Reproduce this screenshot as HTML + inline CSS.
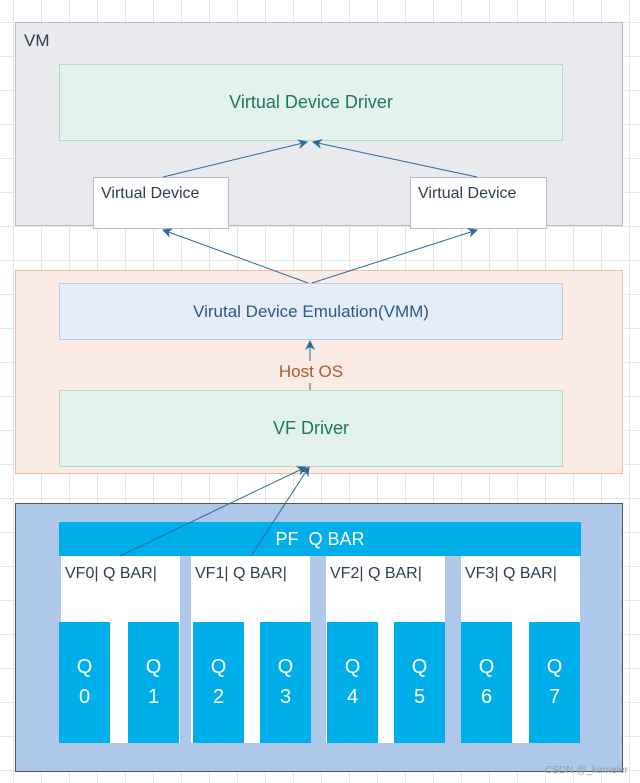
<!DOCTYPE html>
<html><head><meta charset="utf-8"><style>
body{margin:0;width:640px;height:783px;position:relative;overflow:hidden;font-family:"Liberation Sans",sans-serif;
background-color:#fff;background-image:linear-gradient(#e6e6e6 1px,transparent 1px),linear-gradient(90deg,#e6e6e6 1px,transparent 1px);background-size:28px 34px;background-position:13px 22px;}
.b{position:absolute;box-sizing:border-box;}
.c{display:flex;align-items:center;justify-content:center;}
.q{position:absolute;background:#00aee9;color:#fff;font-size:20px;text-align:center;line-height:30px;padding-top:30px;box-sizing:border-box;top:622px;height:121px;width:51px;}
.vf{position:absolute;background:#fff;top:556px;height:187px;font-size:16px;color:#2d3e50;padding:9px 0 0 4px;box-sizing:border-box;}
</style></head><body>
<div class="b" style="left:15px;top:22px;width:608px;height:204px;background:#e9eaee;border:1px solid #b9bccb"></div>
<div class="b" style="left:24px;top:31px;font-size:17px;color:#2d3e50">VM</div>
<div class="b c" style="left:59px;top:64px;width:504px;height:77px;background:#e4f2ed;border:1px solid #acdcc6;color:#1a7a5a;font-size:18px">Virtual Device Driver</div>
<div class="b" style="left:93px;top:177px;width:136px;height:52px;background:#fff;border:1px solid #b9bccb;font-size:16px;color:#2d3e50;padding:7px 0 0 7px">Virtual Device</div>
<div class="b" style="left:410px;top:177px;width:137px;height:52px;background:#fff;border:1px solid #b9bccb;font-size:16px;color:#2d3e50;padding:7px 0 0 7px">Virtual Device</div>

<div class="b" style="left:15px;top:270px;width:608px;height:204px;background:#fbebe5;border:1px solid #f2bcaa"></div>
<div class="b c" style="left:59px;top:283px;width:504px;height:57px;background:#e6ecf8;border:1px solid #b9c9ea;color:#2a5a8a;font-size:17px">Virutal Device Emulation(VMM)</div>
<div class="b c" style="left:59px;top:390px;width:504px;height:77px;background:#e4f2ed;border:1px solid #acdcc6;color:#1a7a5a;font-size:18px">VF Driver</div>

<div class="b" style="left:15px;top:503px;width:608px;height:269px;background:#adc8e8;border:1px solid #555"></div>
<div class="vf" style="left:61px;width:119px">VF0| Q BAR|</div>
<div class="vf" style="left:191px;width:119px">VF1| Q BAR|</div>
<div class="vf" style="left:326px;width:119px">VF2| Q BAR|</div>
<div class="vf" style="left:461px;width:119px">VF3| Q BAR|</div>
<div class="b c" style="left:59px;top:522px;width:522px;height:34px;background:#00aee9;color:#fff;font-size:18px">PF&nbsp;&nbsp;Q BAR</div>
<div class="q" style="left:59px">Q<br>0</div>
<div class="q" style="left:128px">Q<br>1</div>
<div class="q" style="left:193px">Q<br>2</div>
<div class="q" style="left:260px">Q<br>3</div>
<div class="q" style="left:327px">Q<br>4</div>
<div class="q" style="left:394px">Q<br>5</div>
<div class="q" style="left:461px">Q<br>6</div>
<div class="q" style="left:529px">Q<br>7</div>
<div class="b" style="left:545px;top:765px;font-size:10px;color:#999">CSDN @_kerneler</div>

<svg class="b" style="left:0;top:0" width="640" height="783">
<defs><marker id="a" markerWidth="10" markerHeight="10" refX="9" refY="5" orient="auto" markerUnits="userSpaceOnUse"><path d="M0,0 L10,5 L0,10 L3,5 z" fill="#2d6a9a"/></marker></defs>
<g stroke="#2d6a9a" stroke-width="1" fill="none" marker-end="url(#a)">
<line x1="163" y1="177" x2="307" y2="142"/>
<line x1="477" y1="177" x2="313" y2="142"/>
<line x1="308" y1="283" x2="163" y2="230"/>
<line x1="312" y1="283" x2="477" y2="230"/>
<line x1="310" y1="390" x2="310" y2="341"/>
<line x1="120" y1="556" x2="306" y2="467"/>
<line x1="251" y1="556" x2="309" y2="467"/>
</g></svg>
<div class="b c" style="left:278px;top:361px;width:66px;height:22px;background:#fbebe5;color:#b0562a;font-size:17px">Host OS</div>
</body></html>
